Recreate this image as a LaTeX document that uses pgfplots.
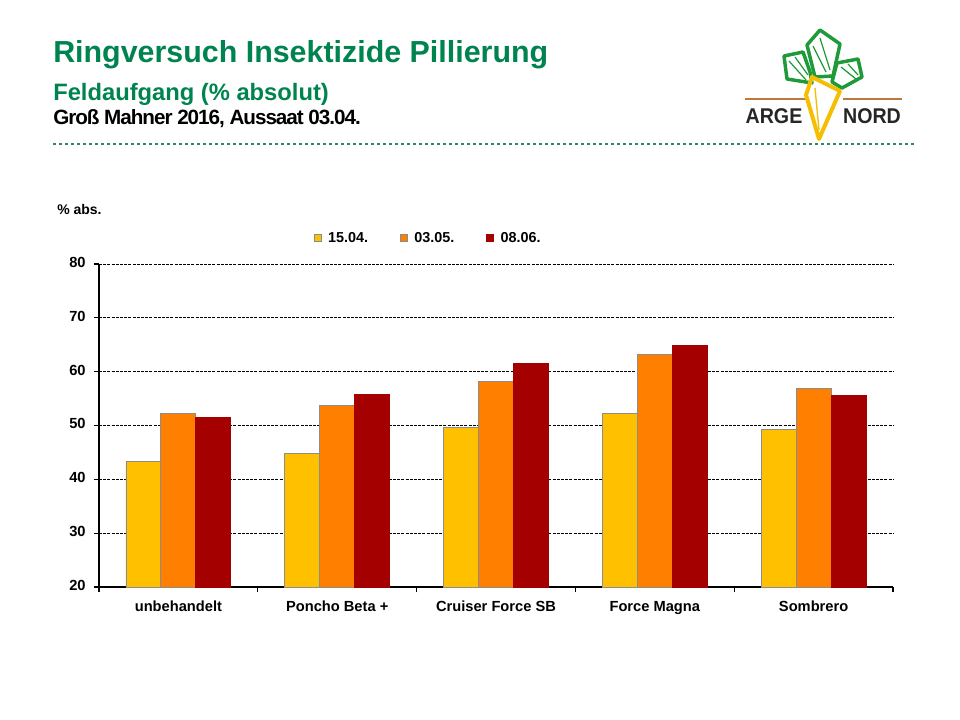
\documentclass[border=0pt]{standalone}
\usepackage{pgfplots}
\pgfplotsset{compat=1.18}
\usepackage{fontspec}
\setmainfont{Liberation Sans}
\definecolor{tgreen}{HTML}{00844F}
\definecolor{dgreen}{HTML}{2E8A5A}
\definecolor{lgreen}{HTML}{1E9A38}
\definecolor{cyel}{HTML}{FFC000}
\definecolor{cora}{HTML}{FF8000}
\definecolor{cred}{HTML}{A50000}
\definecolor{bgrey}{HTML}{8C8C8C}
\definecolor{carrot}{HTML}{F5BE00}
\definecolor{soil}{HTML}{C07838}
\pgfplotstableread{
x y1 y2 y3
0 43.4 52.2 51.5
1 44.8 53.7 55.8
2 49.6 58.2 61.6
3 52.2 63.2 64.8
4 49.3 56.9 55.5
}\data
\begin{document}
\begin{tikzpicture}
\begin{scope}[x=0.75pt,y=-0.75pt]
\path[use as bounding box, fill=white] (0,0) rectangle (960,720);
% titles
\node[anchor=base west, inner sep=0, text=tgreen, font=\fontsize{22.8}{26}\selectfont\bfseries] at (53,63) {Ringversuch Insektizide Pillierung};
\node[anchor=base west, inner sep=0, text=tgreen, font=\fontsize{17.8}{21}\selectfont\bfseries] at (53,101) {Feldaufgang (\% absolut)};
\node[anchor=base west, inner sep=0, text=black, font=\fontsize{15.5}{18}\selectfont\bfseries\addfontfeature{LetterSpace=-5}] at (53,125) {Groß Mahner 2016, Aussaat 03.04.};
\draw[dgreen, line width=2.2pt, dash pattern=on 2.25pt off 2.25pt] (53,144) -- (915,144);
% logo
\draw[soil, line width=1.8pt] (745,99) -- (806,99);
\draw[soil, line width=1.8pt] (843,99) -- (902,99);
\draw[lgreen, line width=2.6pt, line join=round] (784,56) -- (803,52) -- (810,72) -- (812,83) -- (787,79) -- cycle;
\draw[lgreen, line width=2.6pt, line join=round] (807,45) -- (820,30) -- (840,44) -- (833,76) -- (815,77) -- cycle;
\draw[lgreen, line width=2.6pt, line join=round] (837,63) -- (858,59) -- (862,77) -- (842,88) -- (832,82) -- cycle;
\draw[lgreen, line width=0.9pt] (789,61) -- (806,80);
\draw[lgreen, line width=0.9pt] (795,57) -- (808,75);
\draw[lgreen, line width=0.9pt] (813,46) -- (826,72);
\draw[lgreen, line width=0.9pt] (820,38) -- (830,70);
\draw[lgreen, line width=0.9pt] (841,67) -- (856,79);
\draw[lgreen, line width=0.9pt] (848,64) -- (858,75);
\draw[carrot, line width=3pt, line join=round] (812,77) -- (840,91) -- (819,139) -- (806,95) -- cycle;
\draw[carrot, line width=1pt] (815,88) -- (819,130);
\node[anchor=base, inner sep=0, font=\fontsize{16}{18}\selectfont\bfseries, text=black!85, xscale=0.92] at (774,124) {ARGE};
\node[anchor=base, inner sep=0, font=\fontsize{16}{18}\selectfont\bfseries, text=black!85, xscale=0.92] at (872,124) {NORD};
% y unit
\node[anchor=base west, inner sep=0, font=\fontsize{10.5}{12}\selectfont\bfseries] at (57,215) {\% abs.};
\end{scope}
\begin{axis}[
  at={(74.25pt,-440.25pt)}, anchor=south west,
  scale only axis, width=595.5pt, height=242.25pt,
  ymin=20, ymax=80, ytick={20,30,...,80},
  xmin=-0.5, xmax=4.5, xtick={0,...,4},
  xticklabels={unbehandelt, Poncho Beta +, Cruiser Force SB, Force Magna, Sombrero},
  minor xtick={-0.5,0.5,...,4.5},
  axis x line*=bottom, axis y line*=left,
  axis line style={black, line width=0.9pt},
  tick align=outside,
  major tick length=4pt, minor tick length=4pt,
  every tick/.style={black, line width=0.9pt},
  major x tick style={draw=none},
  ymajorgrids,
  grid style={black, line width=0.6pt, dash pattern=on 2.25pt off 0.9pt},
  /pgf/number format/assume math mode=true,
  tick label style={font=\fontsize{11}{13}\selectfont\bfseries},
  typeset ticklabels with strut,
  yticklabel style={xshift=-2.5pt},
  xticklabel style={yshift=-1.5pt},
  ybar, bar width=0.22,
  legend columns=3,
  legend style={at={(0.265,1.08)}, anchor=west, draw=none, fill=none,
    font=\fontsize{10.8}{12}\selectfont\bfseries,
    /tikz/every odd column/.append style={column sep=3pt},
    /tikz/every even column/.append style={column sep=21.7pt}},
  legend image code/.code={\draw[#1] (0pt,-2.6pt) rectangle (5.2pt,2.6pt);},
]
\addplot[fill=cyel, draw=bgrey, line width=0.7pt, bar shift=-0.22] table[x=x,y=y1] {\data};
\addplot[fill=cora, draw=bgrey, line width=0.7pt, bar shift=0] table[x=x,y=y2] {\data};
\addplot[fill=cred, draw=cred, line width=0.7pt, bar shift=0.22] table[x=x,y=y3] {\data};
\legend{15.04., 03.05., 08.06.}
\end{axis}
\end{tikzpicture}
\end{document}
